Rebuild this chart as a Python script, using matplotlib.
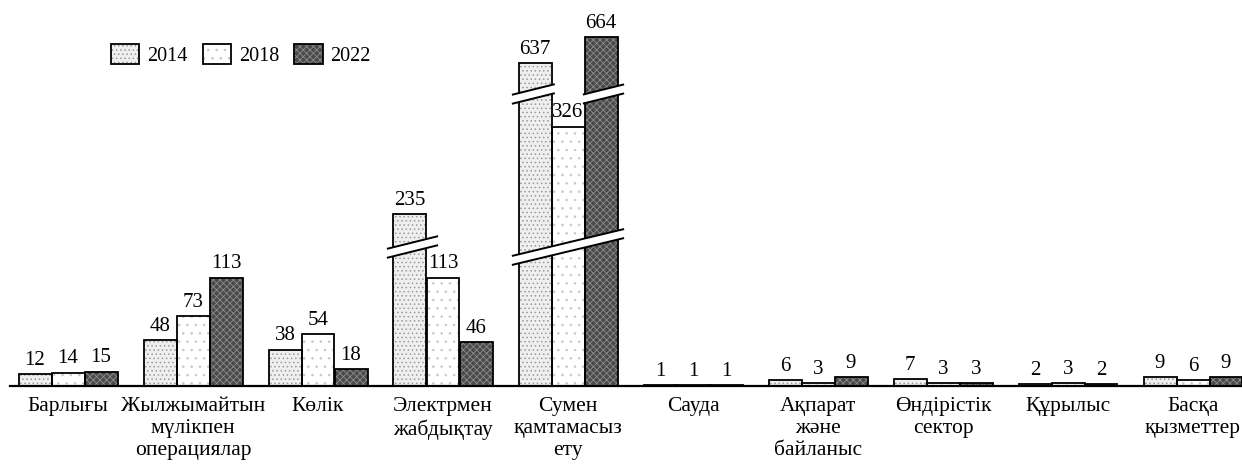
import numpy as np
import matplotlib
matplotlib.use("Agg")
import matplotlib.pyplot as plt
from matplotlib.patches import Patch, Polygon

categories = ["Барлығы", "Жылжымайтын\nмүлікпен\nоперациялар", "Көлік",
              "Электрмен\nжабдықтау", "Сумен\nқамтамасыз\nету", "Сауда",
              "Ақпарат\nжәне\nбайланыс", "Өндірістік\nсектор", "Құрылыс",
              "Басқа\nқызметтер"]
years = ["2014", "2018", "2022"]
v2014 = [12, 48, 38, 235, 637, 1, 6, 7, 2, 9]
v2018 = [14, 73, 54, 113, 326, 1, 3, 3, 3, 6]
v2022 = [15, 113, 18, 46, 664, 1, 9, 3, 2, 9]

# broken value axis: value knots -> drawn height knots (two compressed gaps)
knots_v = [0, 145, 205, 355, 610, 900]
knots_t = [0, 139.2, 143.2, 287.2, 297.1, 297.1 + 0.96 * 290]


def fwd(v):
    return np.interp(v, knots_v, knots_t)


def inv(t):
    return np.interp(t, knots_t, knots_v)


plt.rcParams["font.family"] = ["Liberation Serif", "DejaVu Serif"]
plt.rcParams["hatch.linewidth"] = 0.6

fig = plt.figure(figsize=(12.42, 4.65), dpi=100)
ax = fig.add_axes([10 / 1242, 79 / 465, 1232 / 1242, 386 / 465])
ax.set_yscale("function", functions=(fwd, inv))
ax.set_ylim(0, inv(386))
ax.set_xlim((10 - 68) / 125, (1242 - 68) / 125)

styles = [("#efefef", "#9a9a9a", "...."),
          ("white", "#c8c8c8", ".."),
          ("#4a4a4a", "#8c8c8c", "xxxxx")]
x = np.arange(len(categories))
w = 33 / 125
handles = []
for i, (vals, (fc, hc, hatch)) in enumerate(zip([v2014, v2018, v2022], styles)):
    xs = x + (i - 1) * w
    ax.bar(xs, vals, w, color=fc, edgecolor=hc, hatch=hatch, linewidth=0, zorder=2)
    ax.bar(xs, vals, w, fill=False, edgecolor="black", linewidth=1.3, zorder=3)
    for xi, v in zip(xs, vals):
        ax.annotate(str(v), (xi, v), xytext=(0, 3), textcoords="offset points",
                    ha="center", va="bottom", fontsize=15)
    handles.append((Patch(facecolor=fc, edgecolor=hc, hatch=hatch, linewidth=0),
                    Patch(fill=False, edgecolor="black", linewidth=1.3)))


def draw_break(x0, x1, tc, slope=31.0, half=4.5):
    xm = (x0 + x1) / 2
    tl = tc + slope * (x0 - xm)
    tr = tc + slope * (x1 - xm)
    pts = [(x0, inv(tl - half)), (x1, inv(tr - half)),
           (x1, inv(tr + half)), (x0, inv(tl + half))]
    ax.add_patch(Polygon(pts, closed=True, facecolor="white", edgecolor="none", zorder=4))
    for s in (-half, half):
        ax.plot([x0, x1], [inv(tl + s), inv(tr + s)], color="black", lw=1.4,
                zorder=5, solid_capstyle="butt")


# Электрмен: break through the 2014 bar
draw_break(3 - w - 0.7 * w, 3 - w + 0.85 * w, 139)
# Сумен: lower break across the group, upper break on 2014 and 2022 bars
draw_break(4 - 1.7 * w, 4 + 1.7 * w, 139, slope=30)
draw_break(4 - 1.7 * w, 4 - 0.4 * w, 292)
draw_break(4 + 0.45 * w, 4 + 1.7 * w, 292)

for s in ["top", "right", "left"]:
    ax.spines[s].set_visible(False)
ax.spines["bottom"].set_linewidth(1.6)
ax.set_yticks([])
ax.set_xticks(x)
ax.set_xticklabels(categories, fontsize=15.5, linespacing=1.2)
ax.tick_params(axis="x", length=0, pad=8)
ax.set_facecolor("none")

fig.legend(handles, years, loc="center left", bbox_to_anchor=(111 / 1242, 1 - 55 / 465),
           ncol=3, frameon=False, fontsize=14.5, handlelength=1.4, handleheight=1.1,
           handletextpad=0.4, columnspacing=0.75, borderpad=0, borderaxespad=0)

fig.savefig("out.png", dpi=100)
